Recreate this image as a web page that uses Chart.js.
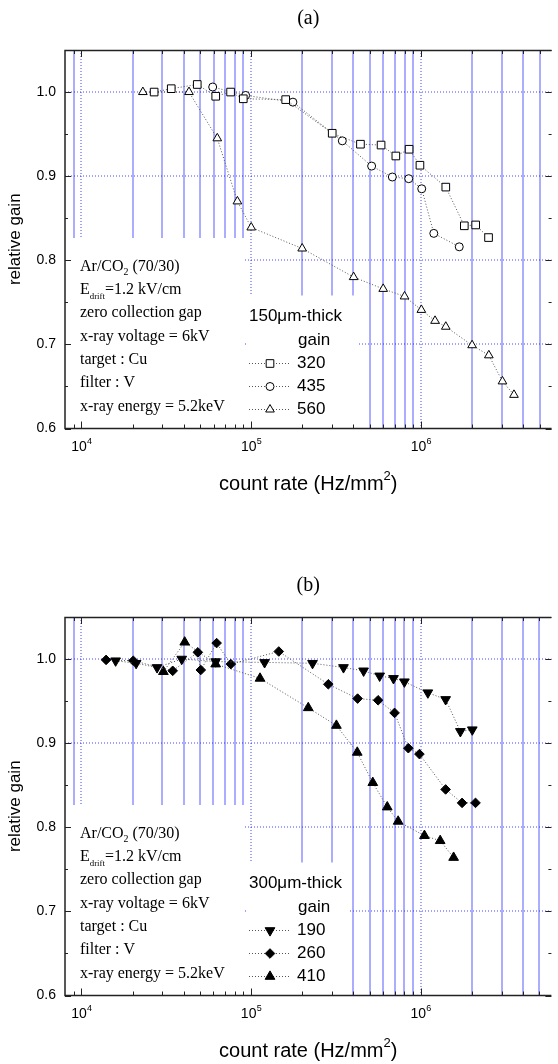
<!DOCTYPE html>
<html>
<head>
<meta charset="utf-8">
<script src="https://cdn.jsdelivr.net/npm/chart.js@4.4.1/dist/chart.umd.min.js"></script>
<style>
  body { margin: 0; background: #fff; overflow: hidden; }
  .panel { position: absolute; left: 0; width: 558px; height: 497px; }
</style>
</head>
<body>
<div class="panel" style="top:0"><canvas id="chartA" width="558" height="497"></canvas></div>
<div class="panel" style="top:567px"><canvas id="chartB" width="558" height="497"></canvas></div>
<script>
// ── axes ──
var X_MIN = 8000, X_MAX = 5.88e6;
var Y_MIN = 0.6, Y_MAX = 1.05;
var xTickValues = [1e4, 1e5, 1e6];
var xTickLabels = ["10", "10", "10"];
var xTickExps = ["4", "5", "6"];
var yTickValues = [0.6, 0.7, 0.8, 0.9, 1.0];
var yTickLabels = ["0.6", "0.7", "0.8", "0.9", "1.0"];

// ── (a) 150um-thick ──
var a320x = [26800, 33800, 48100, 61800, 75600, 89800, 159600, 300000, 440000, 582000, 711000, 851000, 986000, 1400000, 1800000, 2100000, 2500000];
var a320y = [1.000, 1.004, 1.009, 0.995, 1.000, 0.992, 0.991, 0.951, 0.938, 0.937, 0.924, 0.932, 0.913, 0.887, 0.841, 0.842, 0.827];
var a435x = [59300, 92700, 176000, 344000, 512000, 678000, 847000, 1010000, 1190000, 1680000];
var a435y = [1.006, 0.996, 0.988, 0.942, 0.912, 0.899, 0.897, 0.885, 0.832, 0.816];
var a560x = [23000, 43000, 63100, 82900, 100000, 199600, 401000, 599000, 800000, 1005000, 1210000, 1400000, 2000000, 2510000, 3020000, 3530000];
var a560y = [1.000, 1.000, 0.945, 0.870, 0.839, 0.814, 0.780, 0.766, 0.757, 0.741, 0.728, 0.721, 0.699, 0.687, 0.656, 0.640];

// ── (b) 300um-thick ──
var b190x = [15900, 21000, 27900, 39000, 61800, 120000, 230000, 350000, 460000, 572000, 690000, 800000, 1100000, 1400000, 1710000, 2010000];
var b190y = [0.998, 0.995, 0.990, 1.000, 0.997, 0.996, 0.995, 0.990, 0.986, 0.980, 0.977, 0.973, 0.960, 0.952, 0.914, 0.916];
var b260x = [13970, 20200, 34500, 48500, 50500, 62600, 75900, 145500, 285000, 424000, 560000, 700000, 844000, 981000, 1400000, 1750000, 2100000];
var b260y = [0.999, 0.998, 0.986, 1.008, 0.987, 1.019, 0.994, 1.009, 0.970, 0.953, 0.951, 0.936, 0.894, 0.887, 0.845, 0.829, 0.829];
var b410x = [30400, 40600, 61800, 112800, 217000, 318000, 422000, 521000, 634000, 735000, 1050000, 1300000, 1560000];
var b410y = [0.985, 1.020, 0.994, 0.977, 0.942, 0.921, 0.889, 0.853, 0.824, 0.807, 0.790, 0.784, 0.764];

var conditions = [
  [["Ar/CO", ""], ["2", "sub"], [" (70/30)", ""]],
  [["E", ""], ["drift", "sub2"], ["=1.2 kV/cm", ""]],
  [["zero collection gap", ""]],
  [["x-ray voltage = 6kV", ""]],
  [["target : Cu", ""]],
  [["filter : V", ""]],
  [["x-ray energy = 5.2keV", ""]]
];

var SANS = '"Liberation Sans", Arial, sans-serif';
var SERIF = '"Liberation Serif", "Times New Roman", serif';
var GRID = "rgb(20,20,255)";

function pts(xs, ys) {
  return xs.map(function(v, i) { return { x: v, y: ys[i] }; });
}

function series(label, xs, ys, style, radius, rotation, filled) {
  return {
    label: label,
    data: pts(xs, ys),
    showLine: true,
    borderColor: "#555",
    borderWidth: 1,
    borderDash: [1, 2],
    pointStyle: style,
    pointRadius: radius,
    pointRotation: rotation,
    pointBackgroundColor: filled ? "#000" : "#fff",
    pointBorderColor: "#000",
    pointBorderWidth: 1
  };
}

function drawRich(ctx, segs, x, y, size) {
  segs.forEach(function(s) {
    var fs = size, dy = 0;
    if (s[1] === "sub") { fs = size * 0.62; dy = size * 0.28; }
    if (s[1] === "sub2") { fs = size * 0.55; dy = size * 0.3; }
    ctx.font = fs + "px " + SERIF;
    ctx.fillText(s[0], x, y + dy);
    x += ctx.measureText(s[0]).width;
  });
}

// ── grid, boxes, frame, texts ──
var framePlugin = {
  id: "frame",
  beforeDatasetsDraw: function(chart, args, o) {
    var ctx = chart.ctx, a = chart.chartArea, x = chart.scales.x, y = chart.scales.y;
    ctx.save();
    ctx.strokeStyle = GRID;
    ctx.lineWidth = 0.7;
    // minor verticals (solid)
    [1e3, 1e4, 1e5, 1e6].forEach(function(d) {
      for (var m = 2; m <= 9; m++) {
        var v = d * m;
        if (v <= X_MIN || v >= X_MAX) continue;
        var px = Math.round(x.getPixelForValue(v));
        ctx.beginPath(); ctx.moveTo(px, a.top); ctx.lineTo(px, a.bottom); ctx.stroke();
      }
    });
    // decade verticals + horizontals (dotted)
    ctx.lineWidth = 0.8;
    ctx.setLineDash([1, 2]);
    xTickValues.forEach(function(v) {
      var px = Math.round(x.getPixelForValue(v));
      ctx.beginPath(); ctx.moveTo(px, a.top); ctx.lineTo(px, a.bottom); ctx.stroke();
    });
    yTickValues.forEach(function(v) {
      if (v <= Y_MIN) return;
      var py = Math.round(y.getPixelForValue(v));
      ctx.beginPath(); ctx.moveTo(a.left, py); ctx.lineTo(a.right, py); ctx.stroke();
    });
    ctx.setLineDash([]);
    // white boxes behind the notes and legend
    ctx.fillStyle = "#fff";
    ctx.fillRect(a.left, a.top + 188, 245 - a.left, a.bottom - a.top - 188);
    ctx.fillRect(247, a.top + 245.5, o.legendRight - 247, a.bottom - a.top - 245.5);
    ctx.restore();
  },
  afterDraw: function(chart, args, o) {
    var ctx = chart.ctx, a = chart.chartArea, x = chart.scales.x, y = chart.scales.y;
    ctx.save();
    // frame
    ctx.strokeStyle = "#222";
    ctx.lineWidth = 1.5;
    ctx.beginPath();
    ctx.moveTo(a.right, a.top + 0.5); ctx.lineTo(a.left, a.top + 0.5);
    ctx.lineTo(a.left, a.bottom); ctx.lineTo(a.right, a.bottom);
    ctx.stroke();
    // ticks inward
    ctx.lineWidth = 1;
    function xt(v, len) {
      var px = Math.round(x.getPixelForValue(v)) + 0.5;
      ctx.beginPath();
      ctx.moveTo(px, a.bottom); ctx.lineTo(px, a.bottom - len);
      ctx.moveTo(px, a.top); ctx.lineTo(px, a.top + len);
      ctx.stroke();
    }
    [1e3, 1e4, 1e5, 1e6].forEach(function(d) {
      for (var m = 2; m <= 9; m++) if (d * m > X_MIN && d * m < X_MAX) xt(d * m, 4);
    });
    xTickValues.forEach(function(v) { xt(v, 7); });
    for (var k = 0; k <= 9; k++) {
      var v = Y_MIN + k * 0.05;
      var len = (k % 2 === 0) ? 6 : 3;
      var py = Math.round(y.getPixelForValue(v)) + 0.5;
      ctx.beginPath();
      ctx.moveTo(a.left, py); ctx.lineTo(a.left + len, py);
      ctx.moveTo(a.right, py); ctx.lineTo(a.right - len, py);
      ctx.stroke();
    }
    // exponents of the x tick labels (base "10" is drawn by the axis)
    ctx.fillStyle = "#000";
    ctx.textAlign = "left";
    ctx.textBaseline = "alphabetic";
    ctx.font = "9px " + SANS;
    xTickValues.forEach(function(v, i) {
      ctx.fillText(xTickExps[i], x.getPixelForValue(v) + 5.5, a.bottom + 15);
    });
    // panel title
    ctx.textAlign = "center";
    ctx.textBaseline = "middle";
    ctx.font = "20px " + SERIF;
    ctx.fillText(o.title, (a.left + a.right) / 2, 19);
    // axis titles
    ctx.font = "20px " + SANS;
    var xt1 = "count rate (Hz/mm", xt2 = ")";
    var w1 = ctx.measureText(xt1).width, w2 = ctx.measureText(xt2).width;
    ctx.font = "13px " + SANS;
    var ws = ctx.measureText("2").width;
    var sx = (a.left + a.right) / 2 - (w1 + ws + w2) / 2;
    ctx.textAlign = "left";
    ctx.textBaseline = "alphabetic";
    ctx.font = "20px " + SANS;
    ctx.fillText(xt1, sx, 490);
    ctx.font = "13px " + SANS;
    ctx.fillText("2", sx + w1, 480);
    ctx.font = "20px " + SANS;
    ctx.fillText(xt2, sx + w1 + ws, 490);
    ctx.save();
    ctx.translate(15, (a.top + a.bottom) / 2);
    ctx.rotate(-Math.PI / 2);
    ctx.textAlign = "center";
    ctx.textBaseline = "middle";
    ctx.font = "17px " + SANS;
    ctx.fillText("relative gain", 0, 0);
    ctx.restore();
    // conditions
    ctx.textAlign = "left";
    ctx.textBaseline = "alphabetic";
    conditions.forEach(function(line, i) {
      drawRich(ctx, line, 80, 270.8 + i * 23.3, 16);
    });
    // legend
    ctx.font = "17px " + SANS;
    ctx.textBaseline = "middle";
    ctx.fillText(o.header, 249, 316.5);
    ctx.fillText("gain", 298, 340.5);
    var legendY = [363.5, 386.5, 409.5];
    chart.data.datasets.forEach(function(ds, i) {
      var ly = legendY[i];
      ctx.strokeStyle = "#555";
      ctx.lineWidth = 1;
      ctx.setLineDash([1, 2]);
      ctx.beginPath(); ctx.moveTo(249, ly); ctx.lineTo(291, ly); ctx.stroke();
      ctx.setLineDash([]);
      ctx.fillStyle = ds.pointBackgroundColor;
      ctx.strokeStyle = "#000";
      Chart.helpers.drawPoint(ctx, {
        pointStyle: ds.pointStyle, rotation: ds.pointRotation,
        radius: ds.pointRadius, borderWidth: 1
      }, 270, ly);
      ctx.fillStyle = "#000";
      ctx.fillText(ds.label, 297, ly);
    });
    ctx.restore();
  }
};

function makeChart(id, datasets, opts) {
  return new Chart(document.getElementById(id), {
    type: "scatter",
    data: { datasets: datasets },
    plugins: [framePlugin],
    options: {
      responsive: false,
      animation: false,
      events: [],
      layout: { padding: { top: 50, left: 0, right: 0, bottom: 0 } },
      plugins: { legend: { display: false }, tooltip: { enabled: false }, frame: opts },
      scales: {
        x: {
          type: "logarithmic", min: X_MIN, max: X_MAX,
          grid: { display: false, drawTicks: false }, border: { display: false },
          afterBuildTicks: function(s) { s.ticks = xTickValues.map(function(v) { return { value: v }; }); },
          afterFit: function(s) { s.height = 497 - 428.5; },
          ticks: {
            autoSkip: false, maxRotation: 0, padding: 10, color: "#000", labelOffset: -2.5,
            font: { family: SANS, size: 14 },
            callback: function(v, i) { return xTickLabels[i]; }
          }
        },
        y: {
          min: Y_MIN, max: Y_MAX,
          grid: { display: false, drawTicks: false }, border: { display: false },
          afterBuildTicks: function(s) { s.ticks = yTickValues.map(function(v) { return { value: v }; }); },
          afterFit: function(s) { s.width = 65; },
          ticks: {
            padding: 9, color: "#000",
            font: { family: SANS, size: 14 },
            callback: function(v, i) { return yTickLabels[i]; }
          }
        }
      }
    }
  });
}

makeChart("chartA", [
  series("320", a320x, a320y, "rect", 5.4, 0, false),
  series("435", a435x, a435y, "circle", 4, 0, false),
  series("560", a560x, a560y, "triangle", 5, 0, false)
], { title: "(a)", header: "150\u03bcm-thick", legendRight: 357 });

makeChart("chartB", [
  series("190", b190x, b190y, "triangle", 5.6, 180, true),
  series("260", b260x, b260y, "rectRot", 4.8, 0, true),
  series("410", b410x, b410y, "triangle", 5.6, 0, true)
], { title: "(b)", header: "300\u03bcm-thick", legendRight: 350 });
</script>
</body>
</html>
